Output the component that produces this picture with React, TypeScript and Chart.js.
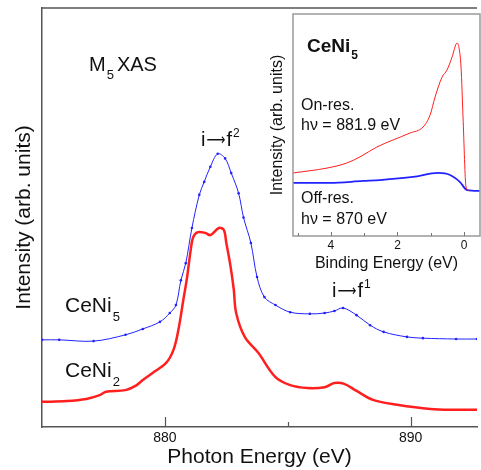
import React, { useEffect, useRef } from "react";
import { Chart, registerables } from "chart.js";
Chart.register(...registerables);

// ---------- data ----------
const photonEnergyCeNi5 = [875.0, 875.7, 877.1, 878.4, 879.1, 879.8, 880.2, 880.45, 880.65, 880.85, 881.1, 881.4, 881.6, 881.85, 882.15, 882.45, 882.7, 883.0, 883.2, 883.5, 883.75, 884.05, 884.5, 885.1, 885.9, 886.5, 886.9, 887.25, 887.8, 888.35, 888.9, 889.85, 890.5, 891.85, 892.7];
const intensityCeNi5 = [20.8, 20.8, 20.5, 22.0, 23.4, 25.1, 27.2, 29.1, 35.0, 39.1, 47.5, 55.4, 58.5, 62.1, 65.2, 64.1, 60.6, 55.8, 50.0, 43.9, 35.8, 31.0, 29.1, 27.4, 27.0, 27.2, 27.7, 28.4, 26.7, 24.3, 22.7, 21.5, 21.2, 21.0, 21.0];

const photonEnergyCeNi2 = [875.0, 876.0, 876.8, 877.35, 877.6, 878.4, 878.8, 879.1, 879.5, 880.05, 880.35, 880.55, 880.75, 880.9, 881.05, 881.15, 881.35, 881.65, 881.85, 882.2, 882.4, 882.5, 882.65, 882.8, 882.9, 883.25, 883.8, 884.5, 885.1, 885.8, 886.5, 886.9, 887.3, 887.8, 888.5, 889.45, 890.8, 891.85, 892.7];
const intensityCeNi2 = [6.0, 6.2, 6.7, 7.6, 8.4, 8.8, 9.8, 11.2, 12.9, 15.3, 18.4, 23.2, 30.3, 35.6, 42.2, 45.3, 46.5, 46.3, 45.8, 47.5, 47.0, 43.9, 39.1, 33.0, 27.2, 21.5, 17.7, 11.9, 10.0, 9.3, 9.5, 10.5, 10.3, 8.6, 6.4, 5.3, 4.3, 4.1, 4.1];

const bindingOnRes = [5.14, 4.12, 3.52, 3.13, 2.62, 2.14, 1.62, 1.23, 1.02, 0.87, 0.66, 0.51, 0.36, 0.21, 0.15, 0.09, 0.03, -0.06, -0.14];
const intensityOnRes = [28.4, 30.6, 32.9, 35.6, 40.1, 43.2, 46.4, 49.1, 54.5, 62.6, 71.6, 74.8, 80.6, 86.9, 84.7, 76.1, 53.6, 22.1, 20.5];

const bindingOffRes = [5.14, 4.03, 3.04, 2.53, 1.53, 0.78, 0.42, 0.12, -0.09, -0.48];
const intensityOffRes = [23.9, 23.9, 24.8, 25.2, 26.6, 28.4, 27.5, 24.3, 20.7, 20.3];

const mainXLabels = [880, 890];
const mainXTicks = [880, 885, 890];
const insetXLabels = [0, 2, 4];
const insetXTicks = [0, 1, 2, 3, 4, 5];

// ---------- styles ----------
const FAMILY = '"Liberation Sans", Arial, Helvetica, sans-serif';
const BLUE = "#2222ff";
const RED = "#ff1f1f";
const AXIS = "#555555";
const INSET_FRAME = "#9a9a9a";
const TEXT = "#111111";

const zip = (xs: number[], ys: number[]) => xs.map((x, i) => ({ x, y: ys[i] }));

function txt(ctx: CanvasRenderingContext2D, s: string, x: number, y: number, size: number, bold = false) {
  ctx.font = `${bold ? "bold " : ""}${size}px ${FAMILY}`;
  ctx.fillText(s, x, y);
  return ctx.measureText(s).width;
}

// "i ⟶ f^n" label with a long arrow
function transition(ctx: CanvasRenderingContext2D, x: number, y: number, sup: string) {
  let w = txt(ctx, "i", x, y, 20);
  const ax = x + w + 1;
  ctx.font = `16px "DejaVu Sans", ${FAMILY}`;
  const aw = ctx.measureText("\u27f6").width || 1;
  const target = 19;
  ctx.save();
  ctx.translate(ax, y - 1);
  ctx.scale(target / aw, 1);
  ctx.fillText("\u27f6", 0, 0);
  ctx.restore();
  const fx = ax + target + 1;
  w = txt(ctx, "f", fx, y, 20);
  txt(ctx, sup, fx + w + 1, y - 9, 12);
}

const mainDecor = {
  id: "mainDecor",
  afterDraw(chart: any) {
    const { ctx, chartArea } = chart;
    const { left, top, right, bottom } = chartArea;
    const xs = chart.scales.x;
    ctx.save();
    ctx.strokeStyle = AXIS;
    ctx.lineWidth = 1.5;
    ctx.beginPath();
    ctx.moveTo(left, top);
    ctx.lineTo(right, top);
    ctx.stroke();
    ctx.lineWidth = 1.2;
    for (const v of mainXTicks) {
      const px = Math.round(xs.getPixelForValue(v)) + 0.5;
      const len = mainXLabels.includes(v) ? 10 : 5;
      ctx.beginPath();
      ctx.moveTo(px, bottom);
      ctx.lineTo(px, bottom - len);
      ctx.stroke();
    }
    ctx.fillStyle = TEXT;
    ctx.textAlign = "left";
    ctx.textBaseline = "alphabetic";
    let w = txt(ctx, "M", 89, 71, 20);
    const w5 = txt(ctx, "5", 89 + w + 1, 79, 13);
    txt(ctx, "XAS", 89 + w + 1 + w5 + 3, 71, 20);

    w = txt(ctx, "CeNi", 65, 312, 21);
    txt(ctx, "5", 65 + w + 1, 321, 13);
    w = txt(ctx, "CeNi", 65, 377, 21);
    txt(ctx, "2", 65 + w + 1, 386, 13);

    transition(ctx, 201, 146, "2");
    transition(ctx, 332, 297, "1");
    ctx.restore();
  },
};

const INSET_LEFT = 260;
const insetDecor = {
  id: "insetDecor",
  afterDraw(chart: any) {
    const { ctx, chartArea } = chart;
    const { left, top, right, bottom } = chartArea;
    const xs = chart.scales.x;
    ctx.save();
    ctx.strokeStyle = INSET_FRAME;
    ctx.lineWidth = 1.5;
    ctx.strokeRect(left, top, right - left, bottom - top);
    ctx.lineWidth = 1;
    ctx.strokeStyle = "#777";
    for (const v of insetXTicks) {
      const px = Math.round(xs.getPixelForValue(v)) + 0.5;
      const len = insetXLabels.includes(v) ? 4 : 3;
      ctx.beginPath();
      ctx.moveTo(px, bottom);
      ctx.lineTo(px, bottom - len);
      ctx.stroke();
    }
    ctx.fillStyle = TEXT;
    ctx.textAlign = "left";
    ctx.textBaseline = "alphabetic";
    const o = -INSET_LEFT;
    const w = txt(ctx, "CeNi", 307 + o, 52, 19, true);
    txt(ctx, "5", 307 + o + w + 1, 59, 12, true);
    txt(ctx, "On-res.", 301 + o, 110, 16);
    txt(ctx, "h\u03bd = 881.9 eV", 301 + o, 130, 16);
    txt(ctx, "Off-res.", 301 + o, 203, 16);
    txt(ctx, "h\u03bd = 870 eV", 301 + o, 224, 16);
    ctx.restore();
  },
};

export default function App() {
  const mainRef = useRef<HTMLCanvasElement>(null);
  const insetRef = useRef<HTMLCanvasElement>(null);

  useEffect(() => {
    document.body.style.margin = "0";
    const main = new Chart(mainRef.current as HTMLCanvasElement, {
      type: "line",
      data: {
        datasets: [
          {
            label: "CeNi5",
            data: zip(photonEnergyCeNi5, intensityCeNi5),
            borderColor: BLUE,
            backgroundColor: BLUE,
            borderWidth: 1,
            pointRadius: 1.3,
            pointBorderWidth: 0,
            pointBackgroundColor: BLUE,
            tension: 0.35,
          },
          {
            label: "CeNi2",
            data: zip(photonEnergyCeNi2, intensityCeNi2),
            borderColor: RED,
            backgroundColor: RED,
            borderWidth: 2.5,
            pointRadius: 0,
            tension: 0.35,
          },
        ],
      },
      options: {
        animation: false,
        responsive: false,
        devicePixelRatio: 1,
        layout: { padding: { top: 8, right: 0, left: 0, bottom: 0 } },
        plugins: { legend: { display: false }, tooltip: { enabled: false } },
        scales: {
          x: {
            type: "linear",
            min: 875,
            max: 892.7,
            afterBuildTicks: (s: any) => {
              s.ticks = mainXTicks.map((v) => ({ value: v }));
            },
            ticks: {
              callback: (v: any) => (mainXLabels.includes(Number(v)) ? String(v) : ""),
              font: { size: 14, family: FAMILY },
              color: TEXT,
              padding: 3,
              maxRotation: 0,
              autoSkip: false,
            },
            grid: { display: false, drawTicks: false },
            border: { display: true, color: AXIS, width: 1.5 },
            title: {
              display: true,
              text: "Photon Energy (eV)",
              font: { size: 21, family: FAMILY },
              color: TEXT,
              padding: { top: 0, bottom: 0 },
            },
            afterFit: (s: any) => {
              s.height = 43;
            },
          },
          y: {
            type: "linear",
            min: 0,
            max: 100,
            ticks: { display: false },
            grid: { display: false, drawTicks: false },
            border: { display: true, color: AXIS, width: 1.5 },
            title: {
              display: true,
              text: "Intensity (arb. units)",
              font: { size: 21, family: FAMILY },
              color: TEXT,
              padding: { top: 12, bottom: 0 },
            },
            afterFit: (s: any) => {
              s.width = 42;
            },
          },
        },
      } as any,
      plugins: [mainDecor],
    });

    const inset = new Chart(insetRef.current as HTMLCanvasElement, {
      type: "line",
      data: {
        datasets: [
          {
            label: "On-res.",
            data: zip(bindingOnRes, intensityOnRes),
            borderColor: RED,
            borderWidth: 1,
            pointRadius: 0,
            cubicInterpolationMode: "monotone",
          },
          {
            label: "Off-res.",
            data: zip(bindingOffRes, intensityOffRes),
            borderColor: BLUE,
            borderWidth: 1.8,
            pointRadius: 0,
            cubicInterpolationMode: "monotone",
          },
        ],
      },
      options: {
        animation: false,
        responsive: false,
        devicePixelRatio: 1,
        layout: { padding: { top: 14, right: 1, left: 0, bottom: 0 } },
        plugins: { legend: { display: false }, tooltip: { enabled: false } },
        scales: {
          x: {
            type: "linear",
            min: -0.48,
            max: 5.14,
            reverse: true,
            afterBuildTicks: (s: any) => {
              s.ticks = insetXTicks.map((v) => ({ value: v }));
            },
            ticks: {
              callback: (v: any) => (insetXLabels.includes(Number(v)) ? String(v) : ""),
              font: { size: 12, family: FAMILY },
              color: TEXT,
              padding: 2,
              maxRotation: 0,
              autoSkip: false,
            },
            grid: { display: false, drawTicks: false },
            border: { display: false },
            title: {
              display: true,
              text: "Binding Energy (eV)",
              font: { size: 16, family: FAMILY },
              color: TEXT,
              padding: { top: 0, bottom: 2 },
            },
            afterFit: (s: any) => {
              s.height = 39;
            },
          },
          y: {
            type: "linear",
            min: 0,
            max: 100,
            ticks: { display: false },
            grid: { display: false, drawTicks: false },
            border: { display: false },
            title: {
              display: true,
              text: "Intensity (arb. units)",
              font: { size: 16, family: FAMILY },
              color: TEXT,
              padding: { top: 8, bottom: 0 },
            },
            afterFit: (s: any) => {
              s.width = 33;
            },
          },
        },
      } as any,
      plugins: [insetDecor],
    });

    return () => {
      main.destroy();
      inset.destroy();
    };
  }, []);

  return (
    <div style={{ position: "relative", width: 481, height: 470, background: "#ffffff" }}>
      <canvas
        ref={mainRef}
        width={481}
        height={470}
        style={{ position: "absolute", left: 0, top: 0, width: 481, height: 470 }}
      />
      <canvas
        ref={insetRef}
        width={221}
        height={275}
        style={{ position: "absolute", left: INSET_LEFT, top: 0, width: 221, height: 275 }}
      />
    </div>
  );
}
